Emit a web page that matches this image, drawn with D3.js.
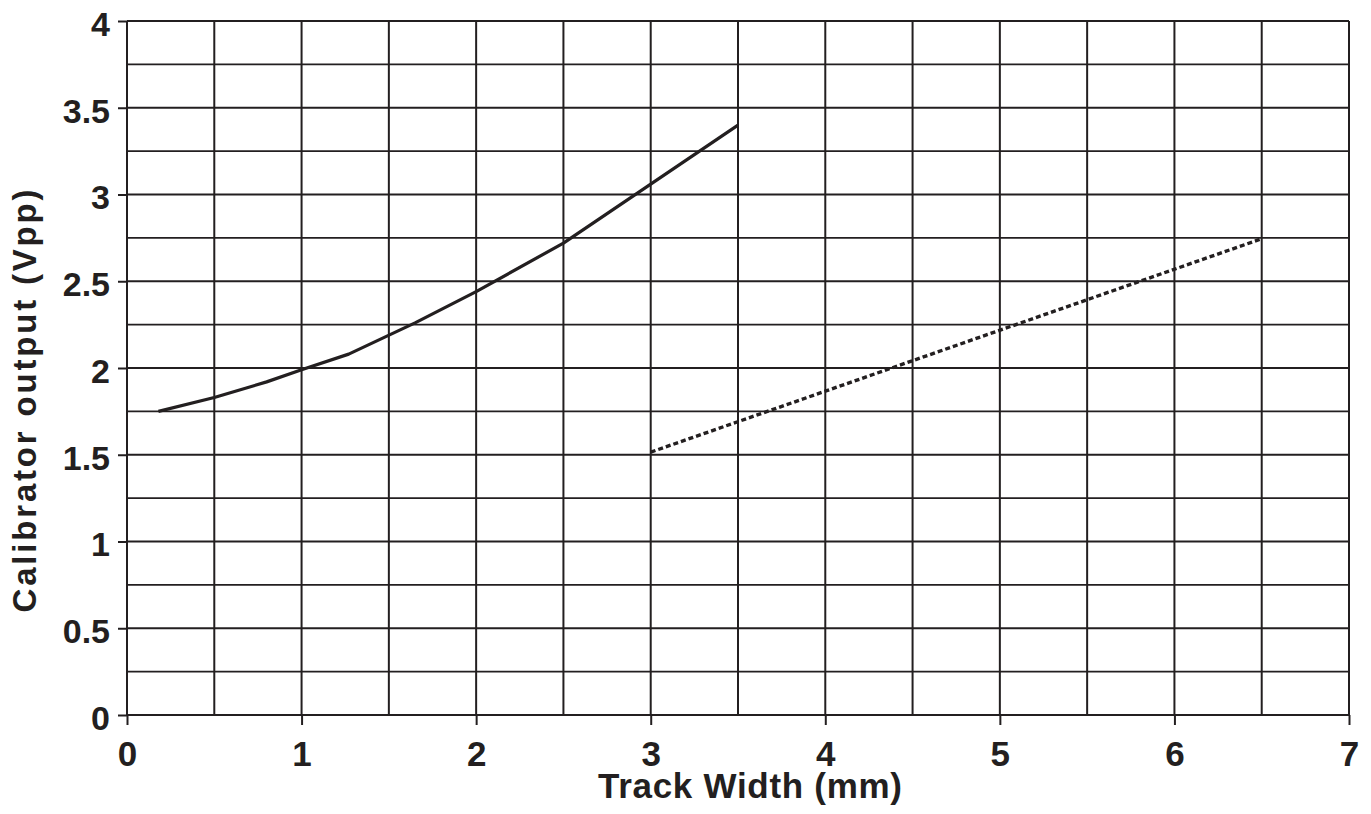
<!DOCTYPE html>
<html>
<head>
<meta charset="utf-8">
<script src="https://cdn.jsdelivr.net/npm/d3@7"></script>
<style>
  body { margin: 0; background: #fff; }
  svg { display: block; }
  text { font-family: "Liberation Sans", Arial, sans-serif; font-weight: bold; fill: #231f20; }
</style>
</head>
<body>
<svg width="1371" height="814"></svg>
<script>
// data
const xTicks = [0, 1, 2, 3, 4, 5, 6, 7];
const yTicks = [0, 0.5, 1, 1.5, 2, 2.5, 3, 3.5, 4];
const xGrid = [0, 0.5, 1, 1.5, 2, 2.5, 3, 3.5, 4, 4.5, 5, 5.5, 6, 6.5, 7];
const yGrid = [0, 0.25, 0.5, 0.75, 1, 1.25, 1.5, 1.75, 2, 2.25, 2.5, 2.75, 3, 3.25, 3.5, 3.75, 4];

// solid curve
const solidX = [0.18, 0.5, 0.8, 1.0, 1.27, 1.65, 2.0, 2.5, 3.0, 3.5];
const solidY = [1.75, 1.83, 1.92, 1.99, 2.08, 2.26, 2.44, 2.72, 3.06, 3.40];

// dashed line
const dashX = [3.0, 6.5];
const dashY = [1.515, 2.745];

const ink = "#231f20";
const svg = d3.select("svg");

const x = d3.scaleLinear().domain([0, 7]).range([127, 1349]);
const y = d3.scaleLinear().domain([0, 4]).range([715, 21]);

//grid
svg.append("g").selectAll("line")
   .data(yGrid)
   .enter().append("line")
   .attr("x1", x(0)).attr("x2", x(7))
   .attr("y1", d => y(d)).attr("y2", d => y(d))
   .attr("stroke", ink)
   .attr("stroke-width", d => (d * 2) % 1 === 0 ? 2.2 : 1.9);

svg.append("g").selectAll("line")
   .data(xGrid)
   .enter().append("line")
   .attr("x1", d => x(d)).attr("x2", d => x(d))
   .attr("y1", y(0)).attr("y2", y(4))
   .attr("stroke", ink)
   .attr("stroke-width", 2);

//axes (ticks + labels)
const xAxis = d3.axisBottom(x).tickValues(xTicks).tickSize(10).tickPadding(10).tickFormat(d => d);
const gx = svg.append("g").attr("transform", `translate(0,${y(0)})`).call(xAxis);
gx.select(".domain").remove();
gx.selectAll(".tick line").attr("stroke", ink).attr("stroke-width", 2);
gx.selectAll(".tick text").attr("font-size", 35).attr("fill", ink).attr("dy", "0.88em");

const yAxis = d3.axisLeft(y).tickValues(yTicks).tickSize(9).tickPadding(8).tickFormat(d => d);
const gy = svg.append("g").attr("transform", `translate(${x(0)},0)`).call(yAxis);
gy.select(".domain").remove();
gy.selectAll(".tick line").attr("stroke", ink).attr("stroke-width", 2);
gy.selectAll(".tick text").attr("font-size", 34).attr("fill", ink).attr("dy", "0.42em");

//lines
const line = d3.line().x(d => x(d[0])).y(d => y(d[1]));

svg.append("path")
   .datum(d3.zip(solidX, solidY))
   .attr("d", line)
   .attr("fill", "none")
   .attr("stroke", ink)
   .attr("stroke-width", 3.2)
   .attr("stroke-linejoin", "round");

svg.append("path")
   .datum(d3.zip(dashX, dashY))
   .attr("d", line)
   .attr("fill", "none")
   .attr("stroke", ink)
   .attr("stroke-width", 3.4)
   .attr("stroke-dasharray", "5,3");

//titles
svg.append("text")
   .attr("x", 750).attr("y", 798)
   .attr("text-anchor", "middle")
   .attr("font-size", 35)
   .attr("textLength", 304)
   .text("Track Width (mm)");

svg.append("text")
   .attr("transform", "translate(36,401) rotate(-90)")
   .attr("text-anchor", "middle")
   .attr("font-size", 33)
   .attr("textLength", 423)
   .text("Calibrator output (Vpp)");
</script>
</body>
</html>
